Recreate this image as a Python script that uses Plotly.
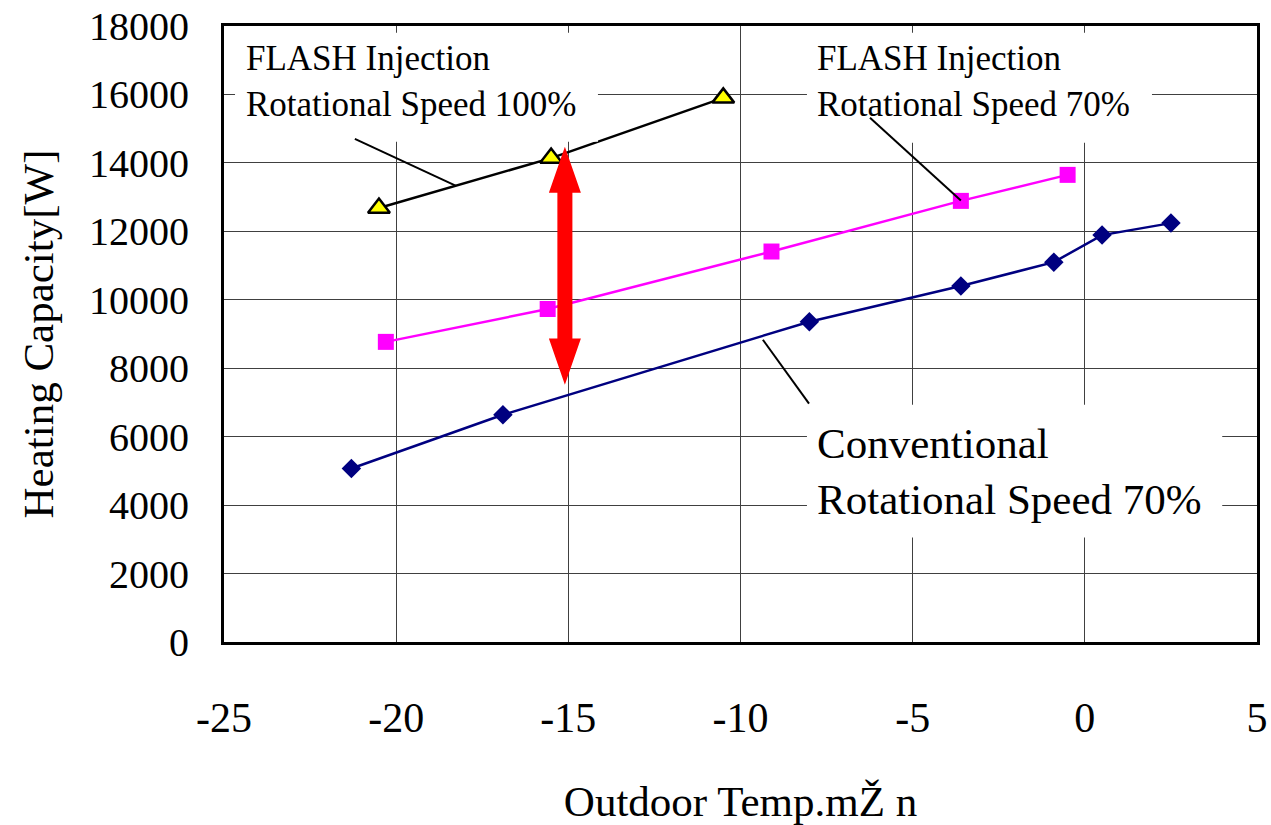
import plotly.graph_objects as go

# Outdoor temperature [°C] and heating capacity [W] for each configuration
conv_temp = [-21.3, -16.9, -8.0, -3.6, -0.9, 0.5, 2.5]
conv_cap = [5070, 6640, 9360, 10400, 11100, 11890, 12240]

fi70_temp = [-20.3, -15.6, -9.1, -3.6, -0.5]
fi70_cap = [8770, 9730, 11410, 12890, 13650]

fi100_temp = [-20.5, -15.5, -10.5]
fi100_cap = [12680, 14140, 15900]

x_ticks = [-25, -20, -15, -10, -5, 0, 5]
y_ticks = [0, 2000, 4000, 6000, 8000, 10000, 12000, 14000, 16000, 18000]

# Capacity gain arrow (temperature, low end, high end)
gain_temp = -15.1
gain_low, gain_high = 7520, 14470

FONT = "Times New Roman, Liberation Serif, Tinos, serif"

fig = go.Figure()
fig.add_trace(go.Scatter(
    x=conv_temp, y=conv_cap, mode="lines+markers",
    line=dict(color="#000080", width=2.5),
    marker=dict(symbol="diamond", size=15, color="#000080"),
    name="Conventional 70%"))
fig.add_trace(go.Scatter(
    x=fi70_temp, y=fi70_cap, mode="lines+markers",
    line=dict(color="#FF00FF", width=2.5),
    marker=dict(symbol="square", size=16, color="#FF00FF"),
    name="FLASH Injection 70%"))
fig.add_trace(go.Scatter(
    x=fi100_temp, y=fi100_cap, mode="lines+markers",
    line=dict(color="black", width=2.5),
    marker=dict(symbol="triangle-up", size=19, color="#FFFF00",
                line=dict(color="black", width=2.5)),
    name="FLASH Injection 100%"))

shapes = []
# white label panels
for x0, x1, y0, y1 in [(-24.68, -14.14, 14615, 17800),
                       (-8.07, 1.95, 14585, 17800),
                       (-8.07, 3.99, 3052, 6935)]:
    shapes.append(dict(type="rect", xref="x", yref="y", x0=x0, x1=x1, y0=y0, y1=y1,
                       fillcolor="white", line=dict(width=0), layer="above"))
# leader lines from labels to curves
for x0, y0, x1, y1 in [(-21.2, 14700, -18.26, 13330),
                       (-6.24, 15316, -3.6, 12900),
                       (-9.35, 8833, -8.01, 6964)]:
    shapes.append(dict(type="line", xref="x", yref="y", x0=x0, y0=y0, x1=x1, y1=y1,
                       line=dict(color="black", width=2), layer="above"))

# double-headed arrow built as a closed path in data units
head_len = 1345
head_hw = 0.465
shaft_hw = 0.218
pts = [
    (gain_temp, gain_high),
    (gain_temp + head_hw, gain_high - head_len),
    (gain_temp + shaft_hw, gain_high - head_len),
    (gain_temp + shaft_hw, gain_low + head_len),
    (gain_temp + head_hw, gain_low + head_len),
    (gain_temp, gain_low),
    (gain_temp - head_hw, gain_low + head_len),
    (gain_temp - shaft_hw, gain_low + head_len),
    (gain_temp - shaft_hw, gain_high - head_len),
    (gain_temp - head_hw, gain_high - head_len),
]
path = "M " + " L ".join(f"{px},{py}" for px, py in pts) + " Z"
shapes.append(dict(type="path", xref="x", yref="y", path=path,
                   fillcolor="#FF0000", line=dict(width=0), layer="above"))

annotations = [
    dict(x=-24.42, y=16370, xref="x", yref="y", xanchor="left", yanchor="middle",
         align="left", showarrow=False,
         text="FLASH Injection<br>Rotational Speed 100%",
         font=dict(family=FONT, size=35, color="black")),
    dict(x=-7.85, y=16370, xref="x", yref="y", xanchor="left", yanchor="middle",
         align="left", showarrow=False,
         text="FLASH Injection<br>Rotational Speed 70%",
         font=dict(family=FONT, size=35, color="black")),
    dict(x=-7.85, y=4970, xref="x", yref="y", xanchor="left", yanchor="middle",
         align="left", showarrow=False,
         text="Conventional<br>Rotational Speed 70%",
         font=dict(family=FONT, size=43, color="black")),
]

fig.update_layout(
    width=1271, height=825,
    margin=dict(l=224, r=14, t=26, b=183),
    paper_bgcolor="white", plot_bgcolor="white",
    showlegend=False,
    font=dict(family=FONT, color="black"),
    shapes=shapes,
    annotations=annotations,
    xaxis=dict(
        range=[-25, 5], tickvals=x_ticks, ticktext=[str(v) for v in x_ticks],
        showgrid=True, gridcolor="#404040", gridwidth=1, zeroline=False,
        showline=True, linecolor="black", linewidth=3, mirror=True,
        ticks="", tickfont=dict(family=FONT, size=42, color="black"),
        ticklabelstandoff=37, automargin=False,
        title=dict(text="Outdoor Temp.mŽ n",
                   font=dict(family=FONT, size=43, color="black"), standoff=50),
    ),
    yaxis=dict(
        range=[0, 18000], tickvals=y_ticks, ticktext=[str(v) for v in y_ticks],
        showgrid=True, gridcolor="#404040", gridwidth=1, zeroline=False,
        showline=True, linecolor="black", linewidth=3, mirror=True,
        ticks="", tickfont=dict(family=FONT, size=40, color="black"),
        ticklabelstandoff=24, automargin=False,
        title=dict(text="Heating Capacity[W]",
                   font=dict(family=FONT, size=43, color="black"), standoff=22),
    ),
)

fig.write_html("out.html")
